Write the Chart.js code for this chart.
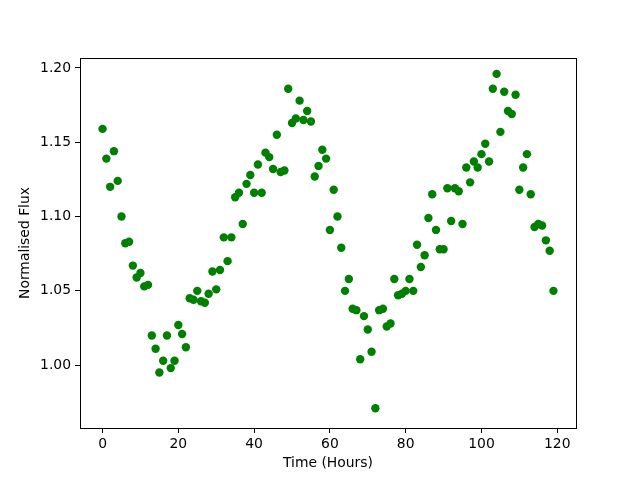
<!DOCTYPE html>
<html>
<head>
<meta charset="utf-8">
<script src="https://cdn.jsdelivr.net/npm/chart.js@4"></script>
<style>
  body { margin: 0; background: #fff; }
</style>
</head>
<body>
<canvas id="fluxChart" width="640" height="480"></canvas>
<script>
const hours = [
  0, 1, 2, 3, 4, 5, 6, 7, 8, 9, 10, 11, 12, 13, 14, 15, 16, 17, 18, 19,
  20, 21, 22, 23, 24, 25, 26, 27, 28, 29, 30, 31, 32, 33, 34, 35, 36, 37, 38, 39,
  40, 41, 42, 43, 44, 45, 46, 47, 48, 49, 50, 51, 52, 53, 54, 55, 56, 57, 58, 59,
  60, 61, 62, 63, 64, 65, 66, 67, 68, 69, 70, 71, 72, 73, 74, 75, 76, 77, 78, 79,
  80, 81, 82, 83, 84, 85, 86, 87, 88, 89, 90, 91, 92, 93, 94, 95, 96, 97, 98, 99,
  100, 101, 102, 103, 104, 105, 106, 107, 108, 109, 110, 111, 112, 113, 114, 115, 116, 117, 118, 119
];

const flux = [
  1.159, 1.139, 1.120, 1.144, 1.124, 1.100, 1.082, 1.083, 1.067, 1.059,
  1.062, 1.053, 1.054, 1.020, 1.011, 0.995, 1.003, 1.020, 0.998, 1.003,
  1.027, 1.021, 1.012, 1.045, 1.044, 1.050, 1.043, 1.042, 1.048, 1.063,
  1.051, 1.064, 1.086, 1.070, 1.086, 1.113, 1.116, 1.095, 1.122, 1.128,
  1.116, 1.135, 1.116, 1.143, 1.140, 1.132, 1.155, 1.130, 1.131, 1.186,
  1.163, 1.166, 1.178, 1.165, 1.171, 1.164, 1.127, 1.134, 1.145, 1.139,
  1.091, 1.118, 1.100, 1.079, 1.050, 1.058, 1.038, 1.037, 1.004, 1.033,
  1.024, 1.009, 0.971, 1.037, 1.038, 1.026, 1.028, 1.058, 1.047, 1.048,
  1.050, 1.058, 1.050, 1.081, 1.066, 1.074, 1.099, 1.115, 1.091, 1.078,
  1.078, 1.119, 1.097, 1.119, 1.117, 1.095, 1.133, 1.123, 1.137, 1.133,
  1.142, 1.149, 1.137, 1.186, 1.196, 1.157, 1.184, 1.171, 1.169, 1.182,
  1.118, 1.133, 1.142, 1.115, 1.093, 1.095, 1.094, 1.084, 1.077, 1.050
];

const xTicks = [0, 20, 40, 60, 80, 100, 120];
const yTicks = [1.00, 1.05, 1.10, 1.15, 1.20];

const points = hours.map((h, i) => ({ x: h, y: flux[i] }));

const font = { family: "DejaVu Sans", size: 13.9 };

// box around the plot area, like matplotlib spines
const frame = {
  id: "frame",
  afterDraw(chart) {
    const { ctx, chartArea: a } = chart;
    ctx.save();
    ctx.strokeStyle = "#000";
    ctx.lineWidth = 1;
    ctx.strokeRect(a.left + 0.5, a.top + 0.5, a.right - a.left, a.bottom - a.top);
    ctx.restore();
  }
};

new Chart(document.getElementById("fluxChart"), {
  type: "scatter",
  data: {
    datasets: [{
      data: points,
      backgroundColor: "#008000",
      borderWidth: 0,
      pointRadius: 4.2,
      pointHoverRadius: 4.2
    }]
  },
  options: {
    responsive: false,
    animation: false,
    layout: { padding: { left: 0, top: 58, right: 64, bottom: 0 } },
    plugins: { legend: { display: false }, tooltip: { enabled: false } },
    scales: {
      x: {
        type: "linear",
        min: -5.95,
        max: 124.95,
        afterFit: s => { s.height = 52; },
        afterBuildTicks: s => { s.ticks = xTicks.map(v => ({ value: v })); },
        grid: { drawOnChartArea: false, drawTicks: true, tickLength: 5, color: "#000" },
        border: { display: false },
        ticks: { color: "#000", font, padding: 3, maxRotation: 0 },
        title: { display: true, text: "Time (Hours)", color: "#000", font, padding: { top: 0, bottom: 8.7 } }
      },
      y: {
        type: "linear",
        min: 0.9577,
        max: 1.2067,
        afterFit: s => { s.width = 80; },
        afterBuildTicks: s => { s.ticks = yTicks.map(v => ({ value: v })); },
        grid: { drawOnChartArea: false, drawTicks: true, tickLength: 5, color: "#000" },
        border: { display: false },
        ticks: { color: "#000", font, padding: 4, callback: v => v.toFixed(2) },
        title: { display: true, text: "Normalised Flux", color: "#000", font, padding: { top: 16.7, bottom: 0 } }
      }
    }
  },
  plugins: [frame]
});
</script>
</body>
</html>
